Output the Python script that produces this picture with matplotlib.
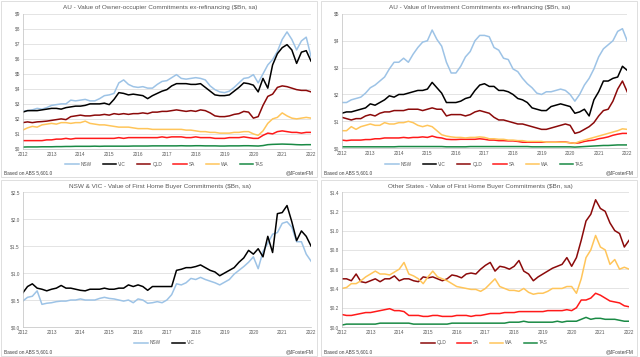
import numpy as np
import matplotlib
matplotlib.use('Agg')
import matplotlib.pyplot as plt
from matplotlib.patches import Rectangle
from matplotlib.ticker import FuncFormatter

plt.rcParams['font.family'] = ['Liberation Sans', 'DejaVu Sans']

# bi-monthly observations, Jan 2012 .. Jan 2022
years = 2012 + np.arange(61) / 6

# --- owner-occupier commitments ex-refi ($bn)
oo_nsw = [2.5, 2.55, 2.6, 2.7, 2.65, 2.75, 2.9, 2.95, 3.0, 3.0, 3.25, 3.2, 3.25, 3.3, 3.2, 3.2,
          3.35, 3.55, 3.6, 3.7, 4.4, 4.6, 4.3, 4.15, 4.1, 4.15, 4.05, 4.05, 4.3, 4.5, 4.55, 4.75,
          4.95, 4.7, 4.65, 4.7, 4.75, 4.7, 4.6, 4.2, 3.95, 3.8, 3.75, 3.85, 4.1, 4.4, 4.7, 4.75,
          4.95, 4.4, 5.0, 5.6, 5.95, 6.5, 7.3, 7.8, 7.3, 6.6, 7.2, 7.45, 6.15]
oo_vic = [2.45, 2.55, 2.55, 2.55, 2.6, 2.65, 2.7, 2.7, 2.65, 2.75, 2.8, 2.85, 2.85, 2.9, 3.0, 3.0,
          3.0, 3.05, 2.95, 3.3, 3.75, 3.7, 3.6, 3.65, 3.6, 3.55, 3.35, 3.55, 3.7, 3.85, 3.95, 4.2,
          4.35, 4.35, 4.35, 4.3, 4.3, 4.35, 4.1, 3.85, 3.6, 3.55, 3.55, 3.6, 3.85, 4.1, 4.4, 4.35,
          4.25, 3.8, 4.7, 4.05, 5.6, 6.35, 6.75, 6.95, 6.6, 5.7, 6.45, 6.55, 5.85]
oo_qld = [1.75, 1.8, 1.75, 1.8, 1.82, 1.85, 1.9, 1.95, 2.0, 1.95, 2.15, 2.2, 2.25, 2.2, 2.2, 2.25,
          2.25, 2.3, 2.25, 2.35, 2.3, 2.35, 2.3, 2.35, 2.35, 2.4, 2.35, 2.45, 2.45, 2.5, 2.5, 2.55,
          2.6, 2.55, 2.5, 2.55, 2.5, 2.6, 2.55, 2.4, 2.2, 2.15, 2.15, 2.2, 2.3, 2.35, 2.5, 2.45,
          2.05, 2.15, 2.9, 3.5, 3.65, 4.1, 4.2, 4.15, 4.05, 3.95, 3.9, 3.9, 3.8]
oo_sa = [0.55, 0.55, 0.55, 0.55, 0.55, 0.6, 0.6, 0.65, 0.65, 0.7, 0.65, 0.7, 0.7, 0.7, 0.7, 0.7,
         0.7, 0.7, 0.7, 0.7, 0.75, 0.7, 0.75, 0.75, 0.75, 0.75, 0.75, 0.75, 0.75, 0.8, 0.75, 0.8,
         0.8, 0.8, 0.75, 0.75, 0.8, 0.75, 0.75, 0.75, 0.7, 0.7, 0.7, 0.75, 0.75, 0.75, 0.8, 0.75,
         0.7, 0.7, 0.9, 1.05, 1.0, 1.15, 1.2, 1.15, 1.1, 1.1, 1.05, 1.1, 1.1]
oo_wa = [1.25, 1.4, 1.5, 1.45, 1.6, 1.65, 1.7, 1.65, 1.75, 1.75, 1.7, 1.75, 1.75, 1.85, 1.7, 1.65,
         1.6, 1.6, 1.55, 1.5, 1.45, 1.45, 1.45, 1.4, 1.35, 1.35, 1.35, 1.3, 1.3, 1.3, 1.3, 1.3,
         1.3, 1.3, 1.25, 1.25, 1.2, 1.15, 1.15, 1.1, 1.1, 1.05, 1.05, 1.05, 1.1, 1.1, 1.15, 1.15,
         1.0, 0.9, 1.2, 1.7, 2.0, 2.1, 2.4, 2.2, 2.05, 2.0, 2.05, 2.1, 2.05]
oo_tas = [0.12, 0.13, 0.13, 0.13, 0.14, 0.14, 0.14, 0.15, 0.15, 0.16, 0.16, 0.17, 0.17, 0.17, 0.17,
          0.18, 0.17, 0.18, 0.18, 0.18, 0.18, 0.18, 0.18, 0.19, 0.19, 0.19, 0.19, 0.2, 0.2, 0.2,
          0.2, 0.2, 0.2, 0.21, 0.2, 0.2, 0.21, 0.21, 0.2, 0.2, 0.2, 0.19, 0.19, 0.2, 0.2, 0.2,
          0.21, 0.21, 0.2, 0.19, 0.22, 0.28, 0.3, 0.31, 0.32, 0.31, 0.3, 0.28, 0.27, 0.28, 0.28]

# --- investment commitments ex-refi ($bn)
inv_nsw = [1.7, 1.7, 1.8, 1.85, 1.9, 2.05, 2.25, 2.35, 2.5, 2.65, 2.95, 3.2, 3.2, 3.35, 3.2, 3.5,
           3.75, 3.95, 4.0, 4.4, 4.05, 3.8, 3.2, 2.8, 2.8, 3.05, 3.4, 3.6, 4.0, 4.2, 4.2, 4.15,
           3.75, 3.65, 3.35, 3.3, 2.95, 2.85, 2.6, 2.4, 2.25, 2.05, 2.0, 2.1, 2.1, 2.15, 2.2, 2.15,
           2.0, 1.75, 2.0, 2.35, 2.6, 2.95, 3.4, 3.7, 3.85, 4.0, 4.35, 4.45, 4.0]
inv_vic = [1.3, 1.35, 1.35, 1.4, 1.45, 1.5, 1.65, 1.6, 1.7, 1.8, 1.95, 1.9, 2.0, 2.0, 2.05, 2.1,
           2.15, 2.15, 2.2, 2.45, 2.25, 2.05, 1.7, 1.7, 1.7, 1.75, 1.85, 1.9, 2.15, 2.35, 2.4, 2.3,
           2.3, 2.15, 2.15, 2.1, 2.0, 1.85, 1.8, 1.7, 1.5, 1.45, 1.4, 1.4, 1.55, 1.6, 1.65, 1.6,
           1.55, 1.3, 1.35, 1.45, 1.2, 1.8, 2.1, 2.5, 2.5, 2.6, 2.65, 3.05, 2.9]
inv_qld = [1.15, 1.1, 1.05, 1.1, 1.1, 1.2, 1.25, 1.2, 1.3, 1.35, 1.35, 1.4, 1.4, 1.4, 1.45, 1.45,
           1.45, 1.4, 1.45, 1.5, 1.45, 1.45, 1.2, 1.25, 1.25, 1.25, 1.2, 1.25, 1.35, 1.4, 1.35,
           1.3, 1.15, 1.05, 1.05, 1.0, 0.95, 0.9, 0.9, 0.85, 0.8, 0.75, 0.7, 0.7, 0.75, 0.8, 0.85,
           0.9, 0.85, 0.55, 0.6, 0.7, 0.8, 0.95, 1.2, 1.4, 1.45, 1.75, 2.2, 2.5, 2.1]
inv_sa = [0.3, 0.28, 0.3, 0.3, 0.3, 0.32, 0.32, 0.35, 0.35, 0.38, 0.38, 0.38, 0.38, 0.4, 0.38,
          0.4, 0.4, 0.42, 0.4, 0.45, 0.4, 0.38, 0.33, 0.32, 0.32, 0.33, 0.33, 0.33, 0.33, 0.35,
          0.33, 0.3, 0.3, 0.28, 0.28, 0.27, 0.27, 0.25, 0.22, 0.22, 0.22, 0.22, 0.22, 0.22, 0.22,
          0.22, 0.23, 0.23, 0.2, 0.18, 0.2, 0.25, 0.28, 0.3, 0.35, 0.38, 0.42, 0.48, 0.52, 0.55,
          0.55]
inv_wa = [0.65, 0.65, 0.8, 0.7, 0.8, 0.85, 0.9, 0.85, 0.85, 0.95, 0.9, 0.9, 0.95, 0.95, 1.0, 0.95,
          0.85, 0.8, 0.85, 0.8, 0.65, 0.5, 0.45, 0.42, 0.4, 0.4, 0.38, 0.4, 0.4, 0.42, 0.4, 0.35,
          0.35, 0.33, 0.33, 0.3, 0.3, 0.28, 0.28, 0.25, 0.25, 0.25, 0.25, 0.22, 0.22, 0.22, 0.22,
          0.22, 0.2, 0.18, 0.25, 0.3, 0.35, 0.4, 0.45, 0.5, 0.55, 0.6, 0.65, 0.72, 0.7]
inv_tas = [0.05, 0.05, 0.05, 0.05, 0.05, 0.05, 0.05, 0.05, 0.05, 0.05, 0.05, 0.05, 0.06, 0.06,
           0.06, 0.06, 0.06, 0.06, 0.06, 0.06, 0.06, 0.06, 0.05, 0.05, 0.05, 0.05, 0.05, 0.06,
           0.06, 0.06, 0.06, 0.06, 0.06, 0.06, 0.06, 0.06, 0.06, 0.06, 0.06, 0.06, 0.05, 0.05,
           0.05, 0.05, 0.05, 0.05, 0.05, 0.05, 0.05, 0.04, 0.05, 0.06, 0.07, 0.08, 0.09, 0.1, 0.1,
           0.11, 0.12, 0.12, 0.12]

# --- first home buyer commitments ($bn)
fhb_nsw = [0.48, 0.55, 0.57, 0.67, 0.42, 0.44, 0.45, 0.47, 0.48, 0.48, 0.5, 0.5, 0.52, 0.5, 0.5,
           0.5, 0.53, 0.55, 0.53, 0.52, 0.5, 0.48, 0.5, 0.45, 0.52, 0.5, 0.44, 0.45, 0.47, 0.45,
           0.5, 0.6, 0.8, 0.78, 0.82, 0.9, 0.88, 0.92, 0.88, 0.85, 0.82, 0.78, 0.83, 0.88, 0.98,
           1.05, 1.12, 1.2, 1.3, 1.08, 1.4, 1.55, 1.72, 1.75, 1.92, 1.95, 1.85, 1.58, 1.58, 1.35,
           1.22]
fhb_vic = [0.63, 0.75, 0.8, 0.72, 0.7, 0.67, 0.7, 0.72, 0.77, 0.72, 0.72, 0.7, 0.68, 0.67, 0.7,
           0.7, 0.7, 0.72, 0.7, 0.7, 0.72, 0.72, 0.78, 0.75, 0.78, 0.75, 0.68, 0.75, 0.75, 0.75,
           0.75, 0.75, 1.05, 1.07, 1.1, 1.1, 1.12, 1.15, 1.1, 1.05, 1.02, 0.95, 1.0, 1.05, 1.1,
           1.2, 1.28, 1.42, 1.35, 1.45, 1.3, 1.68, 1.38, 2.1, 2.12, 2.25, 1.95, 1.6, 1.78, 1.68,
           1.5]
fhb_qld = [0.5, 0.5, 0.48, 0.55, 0.47, 0.46, 0.48, 0.5, 0.47, 0.5, 0.5, 0.53, 0.48, 0.5, 0.5,
           0.48, 0.47, 0.52, 0.51, 0.52, 0.5, 0.48, 0.5, 0.54, 0.53, 0.51, 0.55, 0.56, 0.55, 0.6,
           0.64, 0.67, 0.58, 0.63, 0.62, 0.6, 0.63, 0.69, 0.58, 0.55, 0.48, 0.52, 0.55, 0.58, 0.61,
           0.63, 0.65, 0.72, 0.63, 0.72, 0.9, 1.1, 1.17, 1.32, 1.23, 1.2, 1.08, 1.0, 0.97, 0.83,
           0.9]
fhb_sa = [0.13, 0.12, 0.12, 0.13, 0.14, 0.15, 0.15, 0.16, 0.17, 0.18, 0.19, 0.17, 0.17, 0.16,
          0.12, 0.12, 0.12, 0.11, 0.11, 0.12, 0.12, 0.11, 0.11, 0.11, 0.12, 0.12, 0.12, 0.11,
          0.12, 0.12, 0.13, 0.14, 0.14, 0.14, 0.15, 0.15, 0.15, 0.16, 0.16, 0.16, 0.16, 0.16,
          0.16, 0.17, 0.17, 0.17, 0.17, 0.18, 0.17, 0.2, 0.28, 0.28, 0.3, 0.35, 0.33, 0.3, 0.27,
          0.26, 0.25, 0.22, 0.21]
fhb_wa = [0.4, 0.41, 0.45, 0.45, 0.48, 0.52, 0.55, 0.58, 0.55, 0.55, 0.54, 0.57, 0.6, 0.67, 0.55,
          0.53, 0.5, 0.45, 0.52, 0.58, 0.52, 0.5, 0.48, 0.45, 0.42, 0.41, 0.4, 0.39, 0.39, 0.37,
          0.4, 0.45, 0.5, 0.42, 0.4, 0.38, 0.38, 0.37, 0.4, 0.36, 0.34, 0.35, 0.35, 0.37, 0.4,
          0.4, 0.4, 0.42, 0.42, 0.35, 0.5, 0.72, 0.8, 0.95, 0.83, 0.8, 0.65, 0.7, 0.6, 0.62, 0.6]
fhb_tas = [0.02, 0.03, 0.03, 0.03, 0.03, 0.03, 0.03, 0.03, 0.04, 0.04, 0.04, 0.04, 0.04, 0.04,
           0.04, 0.03, 0.03, 0.03, 0.03, 0.03, 0.03, 0.03, 0.03, 0.04, 0.04, 0.04, 0.04, 0.04,
           0.04, 0.04, 0.04, 0.04, 0.04, 0.04, 0.04, 0.05, 0.05, 0.05, 0.06, 0.05, 0.05, 0.05,
           0.05, 0.05, 0.05, 0.06, 0.05, 0.06, 0.06, 0.06, 0.08, 0.1, 0.08, 0.09, 0.09, 0.08,
           0.08, 0.08, 0.07, 0.06, 0.06]

COLORS = {'NSW': '#9DC3E6', 'VIC': '#000000', 'QLD': '#8B0A0A',
          'SA': '#FF1A1A', 'WA': '#FFC55A', 'TAS': '#1A8A45'}
GRID = '#D9D9D9'
TXT = '#595959'

PANELS = [
    dict(title='AU - Value of Owner-occupier Commitments ex-refinancing ($Bn, sa)',
         series={'NSW': oo_nsw, 'VIC': oo_vic, 'QLD': oo_qld, 'SA': oo_sa, 'WA': oo_wa, 'TAS': oo_tas},
         yticks=np.arange(0, 10, 1), fmt='${:.0f}',
         rect=[0.0355, 0.583, 0.4505, 0.378], box=(0, 0.5)),
    dict(title='AU - Value of Investment Commitments ex-refinancing ($Bn, sa)',
         series={'NSW': inv_nsw, 'VIC': inv_vic, 'QLD': inv_qld, 'SA': inv_sa, 'WA': inv_wa, 'TAS': inv_tas},
         yticks=np.arange(0, 6, 1), fmt='${:.0f}',
         rect=[0.534, 0.585, 0.446, 0.376], box=(0.5, 0.5)),
    dict(title='NSW & VIC - Value of First Home Buyer Commitments ($Bn, sa)',
         series={'NSW': fhb_nsw, 'VIC': fhb_vic},
         yticks=np.arange(0, 2.51, 0.5), fmt='${:.1f}',
         rect=[0.0355, 0.084, 0.4505, 0.378], box=(0, 0)),
    dict(title='Other States - Value of First Home Buyer Commitments ($Bn, sa)',
         series={'QLD': fhb_qld, 'SA': fhb_sa, 'WA': fhb_wa, 'TAS': fhb_tas},
         yticks=np.arange(0, 1.41, 0.2), fmt='${:.1f}',
         rect=[0.534, 0.084, 0.449, 0.378], box=(0.5, 0)),
]

fig = plt.figure(figsize=(6.4, 3.57), dpi=100)
fig.patch.set_facecolor('white')

for p in PANELS:
    bx, by = p['box']
    fig.add_artist(Rectangle((bx + 0.002, by + 0.003), 0.494, 0.494, transform=fig.transFigure,
                             fill=False, edgecolor=GRID, linewidth=0.6))
    ax = fig.add_axes(p['rect'])
    for name, vals in p['series'].items():
        ax.plot(years, vals, color=COLORS[name], linewidth=1.1, label=name)
    ax.set_xlim(2012, 2022)
    ax.set_ylim(p['yticks'][0], p['yticks'][-1])
    ax.set_xticks(range(2012, 2023))
    ax.set_yticks(p['yticks'])
    ax.yaxis.set_major_formatter(FuncFormatter(lambda v, _, f=p['fmt']: f.format(v)))
    ax.grid(axis='y', color=GRID, linewidth=0.5)
    ax.set_axisbelow(True)
    for s in ('top', 'right'):
        ax.spines[s].set_visible(False)
    for s in ('left', 'bottom'):
        ax.spines[s].set_color('#BFBFBF')
        ax.spines[s].set_linewidth(0.5)
    ax.tick_params(length=0, labelsize=3.4, labelcolor=TXT, pad=2)

    cx = bx + 0.25
    fig.text(cx, by + 0.5 - 0.022, p['title'], ha='center', va='center', fontsize=4.6, color=TXT)
    fig.legend(*ax.get_legend_handles_labels(), loc='center', bbox_to_anchor=(cx + 0.007, by + 0.04),
               ncol=len(p['series']), frameon=False, fontsize=3.4, handlelength=2.9,
               columnspacing=2.3, handletextpad=0.4, labelcolor=TXT)
    fig.text(bx + 0.007, by + 0.015, 'Based on ABS 5,601.0', ha='left', va='center',
             fontsize=3.4, color='#404040')
    fig.text(bx + 0.49, by + 0.015, '@JFosterFM', ha='right', va='center',
             fontsize=3.4, color='#404040')

fig.savefig('out.png', dpi=100, facecolor='white')
